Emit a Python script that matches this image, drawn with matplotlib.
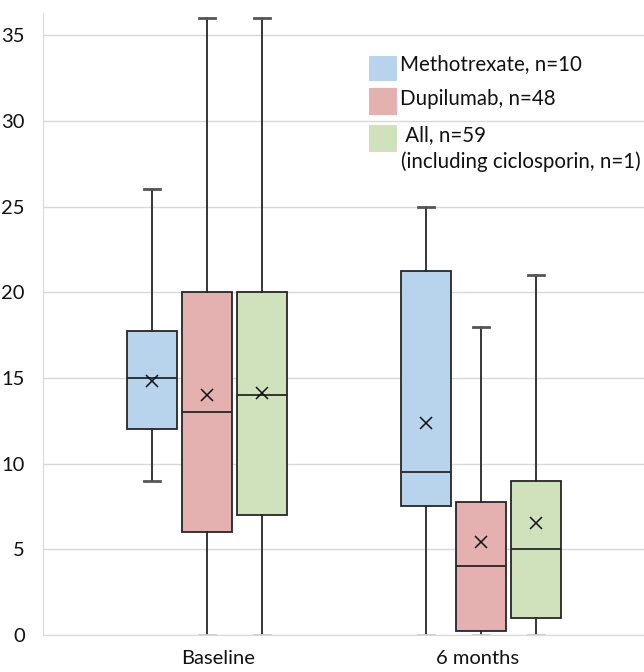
import matplotlib.pyplot as plt
from matplotlib.patches import Rectangle

plt.rcParams['font.family'] = ['Lato', 'DejaVu Sans']

# Summary statistics
timepoints = ["Baseline", "6 months"]
groups = ["Methotrexate, n=10", "Dupilumab, n=48", " All, n=59"]
colors = ["#b8d3ec", "#e4b0b0", "#d0e2bc"]

# one row per timepoint, one entry per group (Methotrexate, Dupilumab, All)
whislo = [[9, 0, 0], [0, 0, 0]]
q1 = [[12, 6, 7], [7.5, 0.25, 1]]
med = [[15, 13, 14], [9.5, 4, 5]]
q3 = [[17.75, 20, 20], [21.25, 7.75, 9]]
whishi = [[26, 36, 36], [25, 18, 21]]
means = [[14.8, 14.0, 14.1], [12.4, 5.4, 6.55]]

offsets = [-0.2, 0.0, 0.2]
box_w = 0.182
edge = "#262626"

fig = plt.figure(figsize=(6.44, 6.72), dpi=100)
ax = fig.add_axes([43 / 644, 1 - 635 / 672, 601 / 644, 622 / 672])

for t in range(len(timepoints)):
    for g in range(len(groups)):
        st = [{
            "whislo": whislo[t][g], "q1": q1[t][g], "med": med[t][g],
            "q3": q3[t][g], "whishi": whishi[t][g], "mean": means[t][g],
            "fliers": [],
        }]
        art = ax.bxp(st, positions=[t + 1 + offsets[g]], widths=box_w,
                     capwidths=[0.058], patch_artist=True, showmeans=True,
                     manage_ticks=False,
                     boxprops=dict(facecolor=colors[g], edgecolor=edge, linewidth=1.3),
                     medianprops=dict(color=edge, linewidth=1.3),
                     whiskerprops=dict(color=edge, linewidth=1.3),
                     capprops=dict(color="#555555", linewidth=2),
                     meanprops=dict(marker="x", markeredgecolor="#111111",
                                    markersize=8, markeredgewidth=1.1))
        # caps sitting on the zero line look like the light gridline
        if whislo[t][g] == 0:
            art["caps"][0].set_color("#cccccc")
        for k in art.values():
            for a in k:
                a.set_zorder(3)

ax.set_xlim(0.4015, 2.595)
ax.set_ylim(0, 36.3)
ax.set_yticks(range(0, 36, 5))
ax.set_xticks([1.04, 1.987])
ax.set_xticklabels(timepoints)
ax.tick_params(length=0, labelsize=14.5, colors="#111111")
ax.tick_params(axis="y", pad=13)
ax.tick_params(axis="x", pad=11)
ax.grid(axis="y", color="#d9d9d9", linewidth=1)
ax.set_axisbelow(True)
for s in ["top", "right"]:
    ax.spines[s].set_visible(False)
ax.spines["left"].set_color("#d9d9d9")
ax.spines["bottom"].set_color("#d9d9d9")

# hand-placed legend (axes fraction coords)
def fx(px):
    return (px - 43) / 601

def fy(py):
    return (635 - py) / 622

patch_y = [(56, 81), (88, 115), (125, 152)]
text_y = [64, 99, 135]
for g in range(len(groups)):
    y0, y1 = patch_y[g]
    ax.add_patch(Rectangle((fx(369), fy(y1)), fx(397) - fx(369), fy(y0) - fy(y1),
                           transform=ax.transAxes, facecolor=colors[g],
                           edgecolor="none", clip_on=False, zorder=4))
    ax.text(fx(400), fy(text_y[g]), groups[g], transform=ax.transAxes,
            fontsize=14.8, va="center", ha="left", color="#111111")
ax.text(fx(401), fy(162), "(including ciclosporin, n=1)", transform=ax.transAxes,
        fontsize=14.8, va="center", ha="left", color="#111111")

fig.savefig("out.png", dpi=100)
